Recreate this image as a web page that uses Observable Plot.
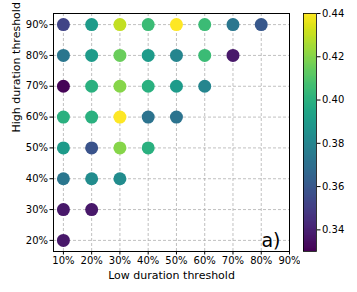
<!DOCTYPE html>
<html><head><meta charset="utf-8">
<script src="https://cdn.jsdelivr.net/npm/d3@7"></script>
<script src="https://cdn.jsdelivr.net/npm/@observablehq/plot@0.6"></script>
<style>
body{margin:0;background:#fff;font-family:"DejaVu Sans",sans-serif;}
#wrap{position:relative;width:357px;height:292px;}
#main{position:absolute;left:0;top:0;}
#cbar{position:absolute;left:290px;top:0;}
</style></head><body>
<div id="wrap"><div id="main"></div><div id="cbar"></div></div>
<script>
// Low duration threshold (%) per point
const lowThr  = [10,20,30,40,50,60,70,80, 10,20,30,40,50,60,70, 10,20,30,40,50,60, 10,20,30,40,50, 10,20,30,40, 10,20,30, 10,20, 10];
// High duration threshold (%) per point
const highThr = [90,90,90,90,90,90,90,90, 80,80,80,80,80,80,80, 70,70,70,70,70,70, 60,60,60,60,60, 50,50,50,50, 40,40,40, 30,30, 20];
// Colour value per point
const values  = [0.352,0.390,0.430,0.405,0.440,0.405,0.373,0.360,
                 0.373,0.390,0.415,0.390,0.380,0.405,0.337,
                 0.331,0.400,0.420,0.400,0.390,0.380,
                 0.400,0.400,0.440,0.372,0.372,
                 0.390,0.358,0.420,0.400,
                 0.373,0.383,0.383,
                 0.337,0.337,
                 0.337];
const xTicks = [10,20,30,40,50,60,70,80,90];
const yTicks = [20,30,40,50,60,70,80,90];
const cTicks = [0.34,0.36,0.38,0.40,0.42,0.44];
const xLabel = "Low duration threshold";
const yLabel = "High duration threshold";
const panelLabel = "a)";

const data = lowThr.map((x,i)=>({x, y:highThr[i], v:values[i]}));
const colorScale = {type:"linear", scheme:"viridis", domain:[0.33,0.44]};
const font = "DejaVu Sans";

const main = Plot.plot({
  width:300, height:292,
  marginLeft:53, marginRight:11, marginTop:13, marginBottom:41,
  style:{fontFamily:font, fontSize:"10px", background:"transparent", color:"#000"},
  x:{domain:[6.5,90]},
  y:{domain:[16.4,93.6]},
  color:colorScale,
  marks:[
    Plot.gridX(xTicks,{stroke:"#b0b0b0", strokeOpacity:1, strokeDasharray:"3,2", strokeWidth:0.8}),
    Plot.gridY(yTicks,{stroke:"#b0b0b0", strokeOpacity:1, strokeDasharray:"3,2", strokeWidth:0.8}),
    Plot.axisX(xTicks,{tickFormat:d=>d+"%", tickSize:3.5, tickPadding:2, fontSize:10, label:null}),
    Plot.axisY(yTicks,{tickFormat:d=>d+"%", tickSize:3.5, tickPadding:2, fontSize:10, label:null}),
    Plot.text([xLabel],{frameAnchor:"bottom", text:d=>d, dy:24, lineAnchor:"middle", fontSize:11, fill:"#000"}),
    Plot.text([yLabel],{frameAnchor:"left", text:d=>d, dx:-37.5, rotate:-90, lineAnchor:"middle", fontSize:11, fill:"#000"}),
    Plot.dot(data,{x:"x", y:"y", fill:"v", r:6.5, stroke:null}),
    Plot.frame({stroke:"#000", strokeWidth:1}),
    Plot.text([panelLabel],{frameAnchor:"bottom-right", text:d=>d, dx:-9, dy:-5, fontSize:19, fill:"#000"})
  ]
});
document.getElementById("main").appendChild(main);

const bands = d3.range(0, 220).map(i=>{
  const a = 0.33 + i*(0.11/220), b = 0.33 + (i+1)*(0.11/220);
  return {y1:a, y2:b, v:(a+b)/2};
});
const cbar = Plot.plot({
  width:67, height:292,
  marginLeft:13, marginRight:41, marginTop:13, marginBottom:41,
  style:{fontFamily:font, fontSize:"10px", background:"transparent", color:"#000"},
  x:{domain:[0,1], axis:null},
  y:{domain:[0.33,0.44]},
  color:colorScale,
  marks:[
    Plot.rect(bands,{x1:0, x2:1, y1:"y1", y2:"y2", fill:"v", shapeRendering:"crispEdges"}),
    Plot.frame({stroke:"#000", strokeWidth:0.8}),
    Plot.axisY(cTicks,{anchor:"right", tickFormat:d3.format(".2f"), tickSize:3.5, tickPadding:2, fontSize:10, label:null})
  ]
});
document.getElementById("cbar").appendChild(cbar);
</script></body></html>
